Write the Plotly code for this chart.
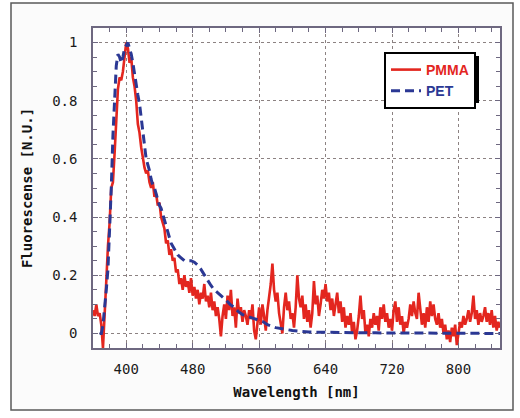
import plotly.graph_objects as go

# ---------------- data ----------------
pmma_wavelength = list(range(360, 852, 2))
pmma_values = [
    0.08, 0.06, 0.10, 0.06, 0.07, 0.03, -0.05, 0.05, 0.18, 0.30,   # 360-378
    0.38, 0.50, 0.52, 0.62, 0.74, 0.84, 0.88, 0.87, 0.90, 0.95,    # 380-398
    1.00, 0.98, 0.93, 0.95, 0.88, 0.85, 0.80, 0.72, 0.69, 0.64,    # 400-418
    0.60, 0.57, 0.55, 0.56, 0.52, 0.50, 0.52, 0.47, 0.48, 0.44,    # 420-438
    0.45, 0.40, 0.38, 0.36, 0.31, 0.32, 0.27, 0.29, 0.25, 0.26,    # 440-458
    0.21, 0.22, 0.17, 0.19, 0.15, 0.20, 0.16, 0.18, 0.14, 0.19,    # 460-478
    0.13, 0.16, 0.12, 0.15, 0.10, 0.14, 0.12, 0.17, 0.11, 0.13,    # 480-498
    0.09, 0.14, 0.08, 0.11, 0.06, 0.09, 0.05, -0.01, 0.06, 0.10,   # 500-518
    0.05, 0.13, 0.08, 0.15, 0.06, 0.09, 0.02, 0.12, 0.07, 0.09,    # 520-538
    0.04, 0.08, 0.06, 0.03, 0.08, 0.05, 0.10, 0.01, -0.02, 0.04,   # 540-558
    0.09, 0.03, 0.10, 0.06, 0.01, 0.08, 0.12, 0.17, 0.24, 0.15,    # 560-578
    0.11, 0.14, 0.07, 0.04, 0.00, 0.09, 0.14, 0.08, 0.11, 0.05,    # 580-598
    0.07, 0.02, 0.09, 0.20, 0.12, 0.09, 0.13, 0.05, 0.10, 0.04,    # 600-618
    0.08, 0.02, 0.07, 0.18, 0.10, 0.13, 0.06, 0.10, 0.15, 0.12,    # 620-638
    0.17, 0.11, 0.14, 0.08, 0.12, 0.06, 0.10, 0.14, 0.07, 0.11,    # 640-658
    0.04, 0.09, 0.02, 0.06, 0.03, 0.07, 0.00, 0.04, -0.02, 0.01,   # 660-678
    0.06, 0.13, 0.05, 0.08, 0.00, 0.03, -0.01, 0.05, 0.02, 0.07,   # 680-698
    0.03, 0.06, 0.01, 0.09, 0.05, 0.10, 0.04, 0.07, 0.02, 0.05,    # 700-718
    0.01, 0.08, 0.11, 0.04, 0.09, 0.03, 0.06, 0.00, 0.04, 0.02,    # 720-738
    0.05, 0.10, 0.06, 0.11, 0.07, 0.05, 0.14, 0.08, 0.03, 0.07,    # 740-758
    0.02, 0.09, 0.04, 0.11, 0.06, 0.10, 0.05, 0.03, 0.07, 0.02,    # 760-778
    0.05, 0.00, 0.03, -0.02, 0.01, -0.03, 0.02, -0.01, 0.03, -0.04,  # 780-798
    0.01, 0.04, 0.02, 0.06, 0.03, 0.05, 0.08, 0.04, 0.07, 0.13,    # 800-818
    0.05, 0.08, 0.03, 0.07, 0.04, 0.06, 0.09, 0.04, 0.07, 0.03,    # 820-838
    0.08, 0.02, 0.06, 0.01, 0.04, 0.02,                            # 840-850
]

pet_wavelength = [
    368, 370, 372, 374, 376, 378, 380, 382, 384, 386, 388, 390, 392, 394,
    396, 398, 400, 402, 404, 406, 408, 410, 412, 414, 416, 418, 420, 422,
    424, 426, 428, 430, 432, 434, 436, 438, 440, 442, 444, 446, 448, 450,
    454, 458, 462, 466, 470, 474, 478, 482, 486, 490, 494, 498, 502, 506,
    510, 515, 520, 525, 530, 535, 540, 545, 550, 555, 560, 565, 570, 575,
    580, 590, 600, 620, 640, 660, 700, 760, 850,
]
pet_values = [
    0.00, 0.00, 0.03, 0.08, 0.15, 0.22, 0.35, 0.50, 0.68, 0.82, 0.92, 0.96, 0.95, 0.93,
    0.95, 0.98, 0.99, 1.00, 0.98, 0.96, 0.93, 0.89, 0.85, 0.82, 0.79, 0.74, 0.69, 0.64,
    0.60, 0.58, 0.56, 0.53, 0.51, 0.50, 0.48, 0.46, 0.44, 0.43, 0.41, 0.39, 0.37, 0.35,
    0.31, 0.29, 0.27, 0.26, 0.25, 0.25, 0.25, 0.245, 0.235, 0.22, 0.20, 0.18, 0.165, 0.15,
    0.14, 0.13, 0.115, 0.10, 0.09, 0.075, 0.065, 0.06, 0.055, 0.05, 0.045, 0.04, 0.03, 0.025,
    0.02, 0.015, 0.01, 0.005, 0.005, 0.003, 0.002, 0.001, 0.0,
]

series_names = ["PMMA", "PET"]
x_title = "Wavelength [nm]"
y_title = "Fluorescense [N.U.]"

RED = "#e3261f"
BLUE = "#2b3894"
AXIS = "#6e6880"
GRID = "#8c8282"
MONO = "DejaVu Sans Mono, monospace"

# plot-area pixel geometry (figure is 520 x 418)
L, R, T, B = 93, 500, 28, 348
PW, PH = R - L, B - T


def px(x):
    return (x - L) / PW


def py(y):
    return 1 - (y - T) / PH


fig = go.Figure()
fig.add_trace(go.Scatter(
    x=pmma_wavelength, y=pmma_values, mode="lines",
    name=f"<span style='color:{RED}'>{series_names[0]}</span>",
    line=dict(color=RED, width=2.6),
))
fig.add_trace(go.Scatter(
    x=pet_wavelength, y=pet_values, mode="lines",
    name=f"<span style='color:{BLUE}'>{series_names[1]}</span>",
    line=dict(color=BLUE, width=3, dash="9px,5px"),
))

# outer frame, white plot area, legend shadow
fig.add_shape(type="rect", xref="paper", yref="paper",
              x0=px(11), x1=px(513), y0=py(410), y1=py(3),
              line=dict(color="#5a5a5a", width=1.5), fillcolor="#fbfbfb", layer="below")
fig.add_shape(type="rect", xref="paper", yref="paper",
              x0=0.0, x1=1.0, y0=0.0, y1=1.0,
              line=dict(width=0), fillcolor="white", layer="below")
fig.add_shape(type="rect", xref="paper", yref="paper",
              x0=px(384), x1=px(479), y0=py(103), y1=py(56),
              line=dict(width=0), fillcolor="black", layer="above")

axis_common = dict(
    showline=True, linecolor=AXIS, linewidth=1.5, mirror="allticks",
    ticks="inside", ticklen=5, tickwidth=1, tickcolor=AXIS,
    showgrid=True, gridcolor=GRID, gridwidth=1, griddash="dot",
    zeroline=False,
    tickfont=dict(family=MONO, size=14, color="#1a1a1a"),
    title_font=dict(family=MONO, size=14, color="#111111", weight="bold"),
)

fig.update_xaxes(
    range=[360, 850], tick0=400, dtick=80,
    minor=dict(dtick=20, ticks="inside", ticklen=4, tickcolor=AXIS, showgrid=False),
    title_text=x_title, title_standoff=12, ticklabelstandoff=7,
    **axis_common,
)
fig.update_yaxes(
    range=[-0.05, 1.05], tick0=0, dtick=0.2,
    minor=dict(dtick=0.05, ticks="inside", ticklen=4, tickcolor=AXIS, showgrid=False),
    title_text=y_title, title_standoff=16, ticklabelstandoff=11,
    **axis_common,
)

fig.update_layout(
    width=520, height=418,
    margin=dict(l=L, r=520 - R, t=T, b=418 - B),
    paper_bgcolor="white", plot_bgcolor="rgba(0,0,0,0)",
    showlegend=True,
    legend=dict(
        x=px(476), y=py(52), xanchor="right", yanchor="top",
        bgcolor="white", bordercolor="black", borderwidth=2,
        font=dict(family="Liberation Sans, Arial, sans-serif", size=14, weight="bold"),
        tracegroupgap=0, itemwidth=30,
    ),
)

fig.write_html("out.html", config={"displayModeBar": False},
               post_script="document.body.style.margin='0';")
